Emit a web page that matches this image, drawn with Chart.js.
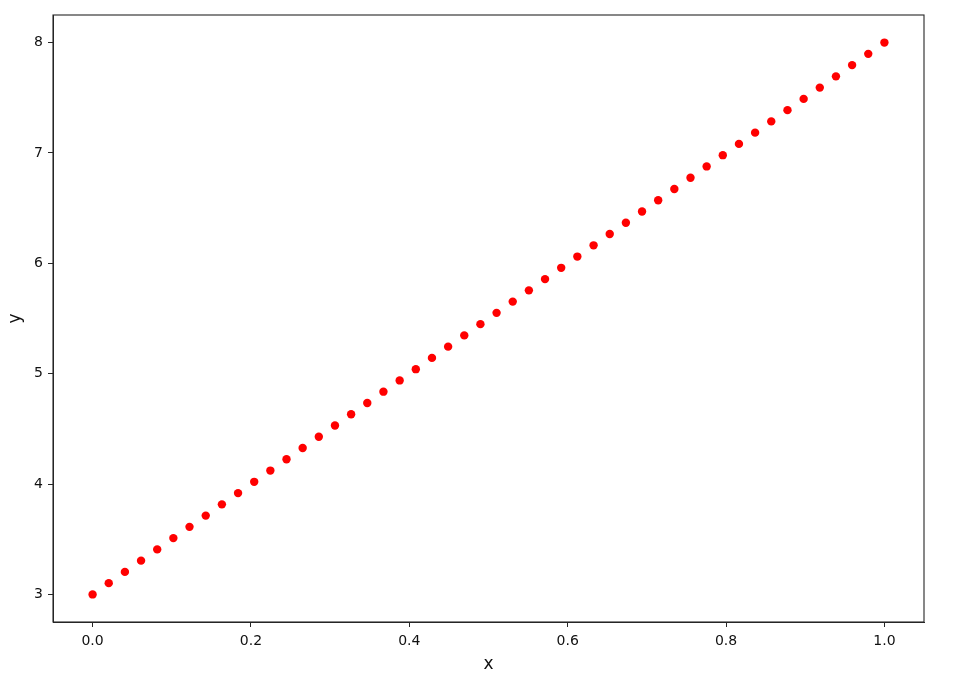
<!DOCTYPE html>
<html>
<head>
<meta charset="utf-8">
<script src="https://cdn.jsdelivr.net/npm/chart.js@4"></script>
<style>
html,body{margin:0;padding:0;background:#fff;}
canvas{display:block;}
</style>
</head>
<body>
<canvas id="c" width="968" height="687"></canvas>
<script>
const xValues = [0.0000,0.0204,0.0408,0.0612,0.0816,0.1020,0.1224,0.1429,0.1633,0.1837,
  0.2041,0.2245,0.2449,0.2653,0.2857,0.3061,0.3265,0.3469,0.3673,0.3878,
  0.4082,0.4286,0.4490,0.4694,0.4898,0.5102,0.5306,0.5510,0.5714,0.5918,
  0.6122,0.6327,0.6531,0.6735,0.6939,0.7143,0.7347,0.7551,0.7755,0.7959,
  0.8163,0.8367,0.8571,0.8776,0.8980,0.9184,0.9388,0.9592,0.9796,1.0000];
const yValues = [3.000,3.102,3.204,3.306,3.408,3.510,3.612,3.714,3.816,3.918,
  4.020,4.122,4.224,4.327,4.429,4.531,4.633,4.735,4.837,4.939,
  5.041,5.143,5.245,5.347,5.449,5.551,5.653,5.755,5.857,5.959,
  6.061,6.163,6.265,6.367,6.469,6.571,6.673,6.776,6.878,6.980,
  7.082,7.184,7.286,7.388,7.490,7.592,7.694,7.796,7.898,8.000];
const xTicks = [0.0,0.2,0.4,0.6,0.8,1.0];
const yTicks = [3,4,5,6,7,8];
const xLabel = 'x';
const yLabel = 'y';

const points = xValues.map((x,i)=>({x:x,y:yValues[i]}));
const frameColor = '#262626';
const FONT = 'DejaVu Sans';

const framePlugin = {
  id:'frame',
  afterDraw(chart){
    const a = chart.chartArea, ctx = chart.ctx;
    ctx.save();
    ctx.strokeStyle = frameColor;
    ctx.lineWidth = 1.1;
    ctx.strokeRect(a.left, a.top, a.right-a.left, a.bottom-a.top);
    ctx.restore();
  }
};

new Chart(document.getElementById('c'), {
  type:'scatter',
  data:{datasets:[{data:points, backgroundColor:'#ff0000', borderColor:'#ff0000',
    pointRadius:4.2, pointBorderWidth:0, showLine:false}]},
  options:{
    responsive:false, animation:false,
    events:[],
    layout:{padding:{top:15,right:44,bottom:0,left:0}},
    plugins:{legend:{display:false}, tooltip:{enabled:false}},
    scales:{
      x:{type:'linear', min:-0.05, max:1.05,
        afterBuildTicks(s){ s.ticks = xTicks.map(v=>({value:v})); },
        afterFit(s){ s.height = 65; },
        grid:{display:true, drawOnChartArea:false, tickLength:5, tickColor:frameColor, tickWidth:1},
        border:{display:true, color:frameColor, width:1},
        ticks:{color:'#111', font:{family:FONT,size:14}, padding:6, maxRotation:0,
          callback:v=>Number(v).toFixed(1)},
        title:{display:true, text:xLabel, color:'#111', font:{family:FONT,size:17}, padding:{top:4,bottom:12}}
      },
      y:{type:'linear', min:2.75, max:8.25,
        afterBuildTicks(s){ s.ticks = yTicks.map(v=>({value:v})); },
        afterFit(s){ s.width = 53; },
        grid:{display:true, drawOnChartArea:false, tickLength:5, tickColor:frameColor, tickWidth:1},
        border:{display:true, color:frameColor, width:1},
        ticks:{color:'#111', font:{family:FONT,size:14}, padding:5,
          callback:v=>String(v)},
        title:{display:true, text:yLabel, color:'#111', font:{family:FONT,size:17}, padding:{top:5,bottom:4}}
      }
    }
  },
  plugins:[framePlugin]
});
</script>
</body>
</html>
